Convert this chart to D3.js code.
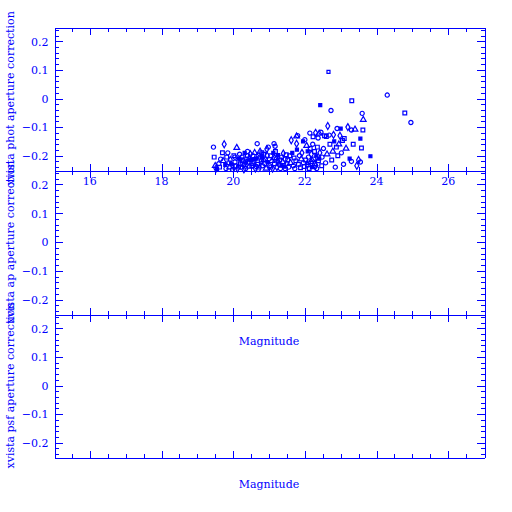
<html>
<head>
<meta charset="utf-8">
<script src="https://d3js.org/d3.v7.min.js"></script>
<style>
    body { margin: 0; background: #fff; }
    text { font-family: "DejaVu Serif", serif; font-size: 11px; fill: #0000ff; }
    .axis { color: #0000ff; }
    .axis path, .axis line { stroke: #0000ff; stroke-width: 1px; shape-rendering: crispEdges; }
    .pt { fill: none; stroke: #0000ff; stroke-width: 1.2px; }
    .pt.solid { fill: #0000ff; }
</style>
</head>
<body>
<svg id='the-chart' width=512 height=512></svg>
<script>

    // magnitudes and phot aperture corrections
    var mags = [
        19.45, 19.47, 19.50, 19.52, 19.55, 19.60, 19.62, 19.65, 19.70, 19.72,
        19.75, 19.78, 19.80, 19.82, 19.85, 19.88, 19.90, 19.92, 19.95, 19.98,
        20.02, 20.05, 20.08, 20.10, 20.12, 20.15, 20.18, 20.20, 20.22, 20.25,
        20.28, 20.30, 20.32, 20.35, 20.38, 20.40, 20.42, 20.45, 20.48, 20.50,
        20.05, 20.15, 20.25, 20.35, 20.45, 20.30, 20.20, 20.40,
        20.52, 20.55, 20.58, 20.60, 20.62, 20.65, 20.67, 20.68, 20.70, 20.72,
        20.75, 20.78, 20.80, 20.82, 20.85, 20.88, 20.90, 20.92, 20.94, 20.96,
        20.98, 20.55, 20.65, 20.75, 20.85, 20.95, 20.60, 20.70, 20.80,
        21.02, 21.05, 21.08, 21.10, 21.12, 21.14, 21.15, 21.17, 21.18, 21.20,
        21.22, 21.25, 21.28, 21.30, 21.32, 21.35, 21.38, 21.40, 21.42, 21.45,
        21.48, 21.50, 21.05, 21.15, 21.25, 21.35, 21.45,
        21.52, 21.55, 21.58, 21.60, 21.62, 21.65, 21.68, 21.70, 21.72, 21.75,
        21.77, 21.77, 21.78, 21.80, 21.82, 21.85, 21.88, 21.90, 21.92, 21.95,
        21.96, 21.98,
        22.00, 22.02, 22.05, 22.07, 22.08, 22.10, 22.12, 22.14, 22.15, 22.17,
        22.18, 22.20, 22.22, 22.23, 22.25, 22.27, 22.28, 22.30, 22.32, 22.33,
        22.35, 22.37, 22.38, 22.40, 22.42, 22.43, 22.45, 22.47, 22.48, 22.10,
        22.20, 22.30, 22.40,
        22.52, 22.55, 22.58, 22.60, 22.62, 22.64, 22.66, 22.68, 22.70, 22.73,
        22.75, 22.78, 22.80, 22.82, 22.85, 22.88, 22.90, 22.92, 22.95, 22.98,
        23.00, 23.02, 23.05, 23.08, 23.10, 23.15, 23.20, 23.25, 23.30, 23.31,
        23.30, 23.35, 23.40, 23.45, 23.55, 23.55, 23.58, 23.60, 23.62, 23.63,
        23.50, 23.83, 24.30, 24.79, 24.96
    ];
    var photCorr = [
        -0.170, -0.205, -0.235, -0.245, -0.248, -0.228, -0.240, -0.212, -0.190, -0.218,
        -0.160, -0.232, -0.245, -0.205, -0.190, -0.225, -0.240, -0.215, -0.230, -0.248,
        -0.200, -0.222, -0.236, -0.172, -0.245, -0.210, -0.195, -0.228, -0.240, -0.205,
        -0.218, -0.232, -0.190, -0.245, -0.212, -0.200, -0.226, -0.238, -0.195, -0.215,
        -0.205, -0.240, -0.230, -0.222, -0.208, -0.248, -0.213, -0.185,
        -0.235, -0.200, -0.222, -0.190, -0.245, -0.210, -0.158, -0.230, -0.198, -0.240,
        -0.185, -0.218, -0.205, -0.235, -0.195, -0.228, -0.212, -0.245, -0.177, -0.222,
        -0.170, -0.228, -0.238, -0.205, -0.215, -0.200, -0.212, -0.248, -0.190,
        -0.235, -0.200, -0.218, -0.245, -0.190, -0.158, -0.228, -0.167, -0.185, -0.210,
        -0.240, -0.198, -0.230, -0.215, -0.245, -0.205, -0.222, -0.192, -0.238, -0.212,
        -0.197, -0.228, -0.240, -0.208, -0.220, -0.235, -0.245,
        -0.215, -0.240, -0.200, -0.225, -0.146, -0.190, -0.235, -0.208, -0.245, -0.218,
        -0.132, -0.158, -0.179, -0.130, -0.230, -0.200, -0.242, -0.212, -0.190, -0.150,
        -0.225, -0.238,
        -0.144, -0.215, -0.165, -0.232, -0.185, -0.205, -0.245, -0.121, -0.175, -0.222,
        -0.195, -0.240, -0.160, -0.134, -0.212, -0.185, -0.228, -0.120, -0.200, -0.245,
        -0.170, -0.138, -0.218, -0.122, -0.190, -0.023, -0.118, -0.235, -0.205, -0.225,
        -0.215, -0.235, -0.210,
        -0.175, -0.130, -0.225, -0.133, -0.195, -0.096, 0.093, -0.128, -0.160, -0.042,
        -0.215, -0.185, -0.127, -0.150, -0.240, -0.170, -0.105, -0.200, -0.160, -0.130,
        -0.105, -0.190, -0.147, -0.230, -0.140, -0.175, -0.100, -0.210, -0.110, -0.008,
        -0.220, -0.160, -0.108, -0.235, -0.140, -0.222, -0.173, -0.052, -0.110, -0.074,
        -0.215, -0.202, 0.012, -0.051, -0.084
    ];

    var yLabels = ['xvista phot aperture correction', 'xvista ap aperture correction', 'xvista psf aperture correction'];
    var xLabel = 'Magnitude';
    var xMajor = [16, 18, 20, 22, 24, 26];
    var yMajor = [-0.2, -0.1, 0, 0.1, 0.2];

    var svg = d3.select('#the-chart');
    var plotLeft = 54, plotRight = 484;
    var bounds = [27, 170, 314, 457];

    var xscale = d3.scaleLinear().domain([15, 27]).range([plotLeft, plotRight]);
    var xMinor = d3.range(15.5, 27, 0.5).filter(function(d) { return d % 2 !== 0; });
    var yMinor = d3.range(-24, 25, 2).map(function(d) { return d / 100; })
        .filter(function(d) { return Math.round(d * 100) % 10 !== 0; });

    var shapes = [d3.symbolCircle, d3.symbolSquare, d3.symbolTriangle, d3.symbolDiamond, d3.symbolSquare, d3.symbolCircle, d3.symbolSquare];

    for (var p = 0; p < 3; p++) {
        var yTop = bounds[p], yBot = bounds[p + 1];
        var yscale = d3.scaleLinear().domain([-0.25, 0.25]).range([yBot, yTop]);
        var g = svg.append('g');

        // bottom axis, ticks pointing in
        var bx = g.append('g').attr('class', 'axis').attr('transform', 'translate(0,' + (yBot + 0.5) + ')');
        bx.call(d3.axisBottom(xscale).tickValues(xMajor).tickSize(-7).tickSizeOuter(0).tickFormat(''));
        bx.append('g').call(d3.axisBottom(xscale).tickValues(xMinor).tickSize(-4).tickSizeOuter(0).tickFormat(''))
            .select('.domain').remove();
        // top axis, ticks pointing in
        var tx = g.append('g').attr('class', 'axis').attr('transform', 'translate(0,' + (yTop + 0.5) + ')');
        tx.call(d3.axisTop(xscale).tickValues(xMajor).tickSize(-7).tickSizeOuter(0).tickFormat(''));
        tx.append('g').call(d3.axisTop(xscale).tickValues(xMinor).tickSize(-4).tickSizeOuter(0).tickFormat(''))
            .select('.domain').remove();
        // left axis
        var ly = g.append('g').attr('class', 'axis').attr('transform', 'translate(' + (plotLeft + 0.5) + ',0)');
        ly.call(d3.axisLeft(yscale).tickValues(yMajor).tickSize(-8).tickSizeOuter(0)
            .tickFormat(function(d) { return d === 0 ? '0' : d3.format('.1f')(d).replace('-', '\u2212'); }));
        ly.selectAll('text').attr('x', -6).attr('dy', '0.35em');
        ly.append('g').call(d3.axisLeft(yscale).tickValues(yMinor).tickSize(-4).tickSizeOuter(0).tickFormat(''))
            .select('.domain').remove();
        // right axis
        var ry = g.append('g').attr('class', 'axis').attr('transform', 'translate(' + (plotRight + 0.5) + ',0)');
        ry.call(d3.axisRight(yscale).tickValues(yMajor).tickSize(-8).tickSizeOuter(0).tickFormat(''));
        ry.append('g').call(d3.axisRight(yscale).tickValues(yMinor).tickSize(-4).tickSizeOuter(0).tickFormat(''))
            .select('.domain').remove();

        svg.selectAll('.axis').attr('font-family', null).attr('font-size', null);

        svg.append('text')
            .attr('transform', 'translate(14,' + ((yTop + yBot) / 2) + ') rotate(-90)')
            .attr('text-anchor', 'middle')
            .text(yLabels[p]);

        if (p === 0) {
            g.selectAll('.xtick').data(xMajor).enter().append('text')
                .attr('x', function(d) { return xscale(d); })
                .attr('y', yBot + 15)
                .attr('text-anchor', 'middle')
                .text(function(d) { return d; });

            g.selectAll('.pt').data(mags).enter().append('path')
                .attr('class', function(d, i) { return i % 7 === 4 && photCorr[i] < 0.05 ? 'pt solid' : 'pt'; })
                .attr('transform', function(d, i) { return 'translate(' + xscale(d) + ',' + yscale(photCorr[i]) + ')'; })
                .attr('d', function(d, i) { return d3.symbol().type(shapes[i % shapes.length]).size(i % 7 === 4 ? 9 : 14)(); });
        } else {
            svg.append('text')
                .attr('x', (plotLeft + plotRight) / 2)
                .attr('y', yBot + 31)
                .attr('text-anchor', 'middle')
                .text(xLabel);
        }
    }

</script>
</body>
</html>
